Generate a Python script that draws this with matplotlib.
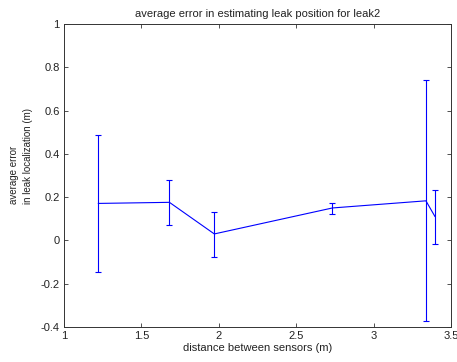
import matplotlib
matplotlib.use("Agg")
import matplotlib.pyplot as plt

# sensor spacing (m) and mean localization error (m) with error-bar ends
spacing = [1.222, 1.681, 1.971, 2.734, 3.338, 3.396]
err_mean = [0.171, 0.176, 0.030, 0.150, 0.183, 0.111]
err_upper = [0.486, 0.280, 0.130, 0.174, 0.739, 0.235]
err_lower = [-0.147, 0.069, -0.078, 0.124, -0.370, -0.016]

xticks = [1, 1.5, 2, 2.5, 3, 3.5]
xticklabels = ["1", "1.5", "2", "2.5", "3", "3.5"]
yticks = [-0.4, -0.2, 0, 0.2, 0.4, 0.6, 0.8, 1]
yticklabels = ["-0.4", "-0.2", "0", "0.2", "0.4", "0.6", "0.8", "1"]

plt.rcParams["font.family"] = ["Liberation Sans", "DejaVu Sans"]
plt.rcParams["font.size"] = 8

fig = plt.figure(figsize=(4.57, 3.62), dpi=100)
ax = fig.add_axes([64 / 457, 1 - 327 / 362, (451 - 64) / 457, (327 - 24) / 362])

yerr = [[m - lo for m, lo in zip(err_mean, err_lower)],
        [hi - m for m, hi in zip(err_mean, err_upper)]]
ax.errorbar(spacing, err_mean, yerr=yerr, color="#0000ff", lw=0.8,
            elinewidth=0.8, capsize=2.3, capthick=0.8)

ax.set_xlim(1, 3.5)
ax.set_ylim(-0.4, 1)
ax.set_xticks(xticks)
ax.set_xticklabels(xticklabels)
ax.set_yticks(yticks)
ax.set_yticklabels(yticklabels)
ax.tick_params(direction="in", top=True, right=True, length=3, width=0.6,
               colors="#333333", labelcolor="#222222", pad=3)
for s in ax.spines.values():
    s.set_linewidth(0.7)
    s.set_color("#333333")

ax.set_title("average error in estimating leak position for leak2", fontsize=8, pad=5,
             color="#222222")
ax.set_xlabel("distance between sensors (m)", fontsize=8, labelpad=1, color="#222222")
# two-line y label, lines start at the same height as in the original
fig.text(21 / 457, 1 - 204 / 362, "average error\nin leak localization (m)",
         rotation=90, ha="center", va="bottom", multialignment="left",
         fontsize=7, linespacing=1.45, color="#222222")

fig.savefig("out.png", dpi=100)
